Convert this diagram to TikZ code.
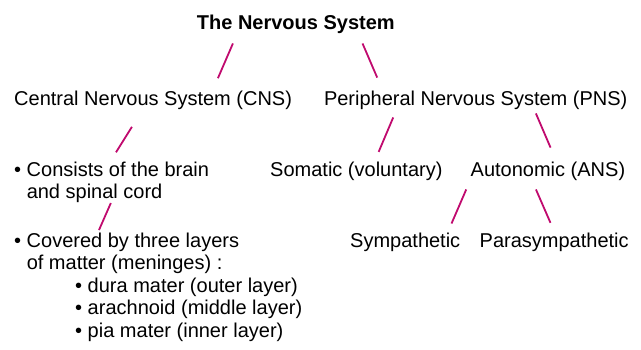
\documentclass[tikz,border=0pt]{standalone}
\usepackage{fontspec}
\setmainfont{Liberation Sans}
\usepackage{tikz}
\definecolor{NerveMagenta}{HTML}{C00A6E}
\tikzset{
  heading/.style={font=\fontsize{20}{22.6}\selectfont\bfseries, inner sep=0pt, anchor=base west},
  branch/.style={font=\fontsize{20}{22.6}\selectfont, inner sep=0pt, anchor=base west},
  bulleted/.style={branch, align=left, anchor=north west},
  nerve/.style={draw=NerveMagenta, line width=1.8pt}
}
\newcommand{\itembul}{\textbullet\ }
\newcommand{\itemgap}{\phantom{\textbullet\ }}

\begin{document}
\begin{tikzpicture}[x=1pt, y=-1pt]
  \useasboundingbox (0,0) rectangle (641,349);
  \node[heading] (title) at (196.7,29) {The Nervous System};
  \node[branch] (cns) at (14,105) {Central Nervous System (CNS)};
  \node[branch] (pns) at (323.8,105) {Peripheral Nervous System (PNS)};
  \node[bulleted] (brain) at (14,161.4) {\itembul Consists of the brain\\\itemgap and spinal cord};
  \node[bulleted] (meninges) at (14,232.4) {\itembul Covered by three layers\\
    \itemgap of matter (meninges) :\\
    \hspace*{61pt}\itembul dura mater (outer layer)\\
    \hspace*{61pt}\itembul arachnoid (middle layer)\\
    \hspace*{61pt}\itembul pia mater (inner layer)};
  \node[branch] (somatic) at (270,176.7) {Somatic (voluntary)};
  \node[branch] (autonomic) at (470.5,176.7) {Autonomic (ANS)};
  \node[branch] (sympathetic) at (350,247.4) {Sympathetic};
  \node[branch] (parasympathetic) at (479.5,247.4) {Parasympathetic};
  \draw[nerve] ([xshift=-62.9pt,yshift=-10.1pt]title.south) -- ([xshift=64.8pt,yshift=12.1pt]cns.north);
  \draw[nerve] ([xshift=66.7pt,yshift=-10.1pt]title.south) -- ([xshift=-98.5pt,yshift=12.7pt]pns.north);
  \draw[nerve] ([xshift=-21.2pt,yshift=-17.5pt]cns.south) -- ([xshift=102pt,yshift=9.1pt]brain.north west);
  \draw[nerve] ([xshift=-82.5pt,yshift=-8.1pt]pns.south) -- ([xshift=22.3pt,yshift=10.1pt]somatic.north);
  \draw[nerve] ([xshift=60.2pt,yshift=-4.1pt]pns.south) -- ([xshift=2.6pt,yshift=14.4pt]autonomic.north);
  \draw[nerve] ([xshift=-0.8pt]brain.south) -- ([xshift=85pt,yshift=2.4pt]meninges.north west);
  \draw[nerve] ([xshift=-81.7pt,yshift=-8.4pt]autonomic.south) -- ([xshift=46.3pt,yshift=9.2pt]sympathetic.north);
  \draw[nerve] ([xshift=-12pt,yshift=-8.4pt]autonomic.south) -- ([xshift=-3.7pt,yshift=9.9pt]parasympathetic.north);
\end{tikzpicture}
\end{document}
